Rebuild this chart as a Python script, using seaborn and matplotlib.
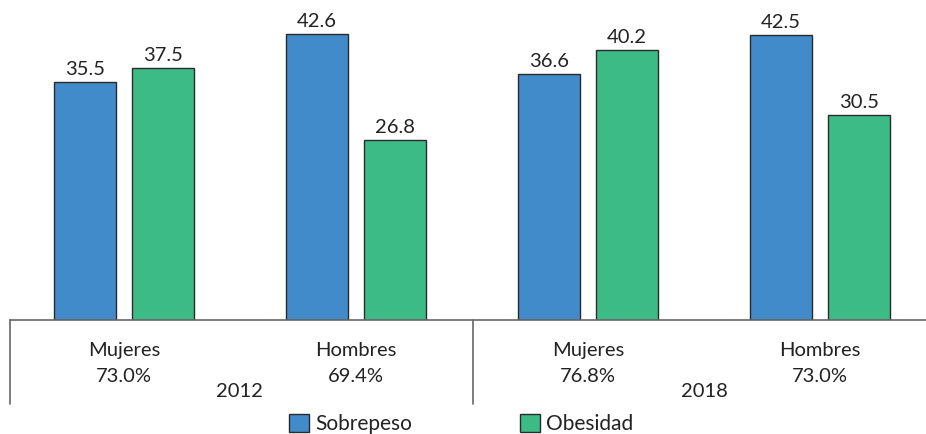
import matplotlib
matplotlib.use("Agg")
import matplotlib.pyplot as plt
from matplotlib.patches import Patch
import seaborn as sns
import pandas as pd

# Prevalence of overweight and obesity by sex and survey year
groups = ["Mujeres 2012", "Hombres 2012", "Mujeres 2018", "Hombres 2018"]
sexes = ["Mujeres", "Hombres", "Mujeres", "Hombres"]
totals = ["73.0%", "69.4%", "76.8%", "73.0%"]
years = ["2012", "2018"]
sobrepeso = [35.5, 42.6, 36.6, 42.5]
obesidad = [37.5, 26.8, 40.2, 30.5]
series = ["Sobrepeso", "Obesidad"]
colors = ["#428BCA", "#3DBB87"]

df = pd.DataFrame({
    "grupo": groups * 2,
    "serie": [series[0]] * 4 + [series[1]] * 4,
    "valor": sobrepeso + obesidad,
})

sns.set_style("white")
plt.rcParams["font.family"] = ["Lato", "DejaVu Sans"]

fig = plt.figure(figsize=(9.26, 4.34), dpi=100)
ax = fig.add_axes([10 / 926, 114 / 434, 916 / 926, 320 / 434])

sns.barplot(data=df, x="grupo", y="valor", hue="serie", order=groups,
            hue_order=series, palette=colors, width=0.677, gap=0.21,
            edgecolor="#2a2a2a", linewidth=1.0, saturation=1, ax=ax,
            legend=False)

for cont in ax.containers:
    ax.bar_label(cont, fmt="%.1f", padding=3, fontsize=14.5, color="#222222")

ax.set_xlim(-0.491, 3.457)
ax.set_ylim(0, 47.7)
ax.set_xlabel("")
ax.set_ylabel("")
ax.set_xticks([])
ax.set_yticks([])
for s in ["top", "right", "left"]:
    ax.spines[s].set_visible(False)
ax.spines["bottom"].set_color("#666666")
ax.spines["bottom"].set_linewidth(1.2)

# vertical separators of the category block
for xv in [-0.491, 1.504]:
    ax.axvline(xv, ymin=-0.2625, ymax=0, color="#666666", lw=1.2, clip_on=False)

tr = ax.get_xaxis_transform()
for i, (sx, tot) in enumerate(zip(sexes, totals)):
    ax.text(i, -0.094, sx, transform=tr, ha="center", va="center",
            fontsize=14.5, color="#222222")
    ax.text(i, -0.175, tot, transform=tr, ha="center", va="center",
            fontsize=14.5, color="#222222")
for j, yr in enumerate(years):
    ax.text(2 * j + 0.5, -0.222, yr, transform=tr, ha="center", va="center",
            fontsize=14.5, color="#222222")

handles = [Patch(facecolor=c, edgecolor="#2a2a2a", linewidth=1.0) for c in colors]
fig.legend(handles, series, loc="center", bbox_to_anchor=(461 / 926, 1 - 424 / 434),
           ncol=2, frameon=False, fontsize=15, handlelength=0.95, handleheight=0.95,
           handletextpad=0.3, columnspacing=5.2, labelcolor="#222222",
           borderpad=0.2)

fig.savefig("out.png", dpi=100)
